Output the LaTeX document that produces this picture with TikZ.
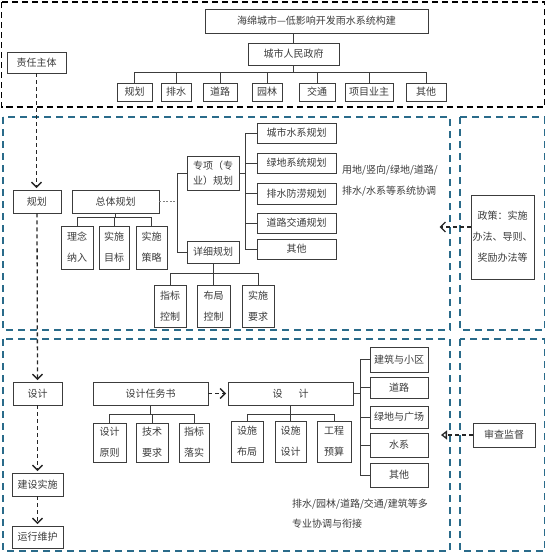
\documentclass[tikz,border=0pt]{standalone}
\usepackage{fontspec}
\newfontfamily\cjk{Noto Sans CJK SC}
\usetikzlibrary{arrows.meta,calc}
\definecolor{bluedash}{RGB}{42,107,138}
\definecolor{ink}{RGB}{60,60,60}
\definecolor{edge}{RGB}{60,60,60}
\tikzset{
  box/.style={draw=edge,line width=0.9pt,fill=white,inner sep=0pt,text=ink,align=center,font=\cjk\fontsize{10}{21}\selectfont},
  conn/.style={draw=edge,line width=0.9pt},
  dotconn/.style={draw=gray,line width=0.7pt,dash pattern=on 2pt off 1.5pt},
  blkzone/.style={draw=black,line width=1.7pt,dash pattern=on 6pt off 4pt},
  bluzone/.style={draw=bluedash,line width=1.7pt,dash pattern=on 7pt off 5pt},
  flow/.style={draw=black!85,line width=1.3pt,dash pattern=on 4pt off 3pt,-{Straight Barb[length=5pt,width=10pt]},shorten >=1.5pt},
  flowtri/.style={draw=black!85,line width=1.3pt,dash pattern=on 4pt off 3pt,-{Triangle[open,length=6pt,width=9pt]}},
  note/.style={text=ink,inner sep=0pt,anchor=west,font=\cjk\fontsize{10}{12}\selectfont},
}
\newcommand\mybox[7][]{%
  \pgfmathsetmacro\mbxW{#5-#3}\pgfmathsetmacro\mbxH{#6-#4}%
  \pgfmathsetmacro\mbxX{(#3+#5)/2}\pgfmathsetmacro\mbxY{(#4+#6)/2}%
  \node[box,minimum width=\mbxW pt,minimum height=\mbxH pt,#1] (#2) at (\mbxX,\mbxY) {#7};}
\begin{document}
\begin{tikzpicture}[x=1pt,y=-1pt]
\useasboundingbox (0,0) rectangle (546,554);
% zones
\draw[blkzone] (1.5,2) rectangle (544.5,107);
\draw[bluzone] (3,117) rectangle (450,330);
\draw[bluzone] (460,117) rectangle (544.5,330);
\draw[bluzone] (3,339) rectangle (450,551);
\draw[bluzone] (460,339) rectangle (544.5,551);

% ---------- top ----------
\mybox{title}{205}{9}{428}{33}{海绵城市—低影响开发雨水系统构建}
\mybox{gov}{248}{43}{339}{65}{城市人民政府}
\mybox{t1}{117}{83}{152}{101}{规划}
\mybox{t2}{161}{83}{191}{101}{排水}
\mybox{t3}{203}{83}{237}{101}{道路}
\mybox{t4}{252}{83}{282}{101}{园林}
\mybox{t5}{299}{83}{335}{101}{交通}
\mybox{t6}{345}{83}{393}{101}{项目业主}
\mybox{t7}{406}{83}{446}{101}{其他}
\mybox{zr}{7}{52}{66}{73}{责任主体}
\draw[conn] (gov.north) -- (gov.north |- title.south);
\draw[conn] (gov.south) -- ++(0,7) coordinate (gh0);
\foreach \c in {t1,t2,t3,t4,t5,t6,t7} \draw[conn] (gh0) -| (\c.north);

% ---------- planning ----------
\mybox{gh}{13}{190}{61}{213}{规划}
\mybox{zt}{72}{190}{159}{213}{总体规划}
\mybox{c1}{61}{226}{93}{269}{理念\\纳入}
\mybox{c2}{99}{226}{129}{269}{实施\\目标}
\mybox{c3}{136}{226}{167}{269}{实施\\策略}
\mybox[font=\cjk\fontsize{10}{15}\selectfont]{zx}{187}{156}{239}{190}{专项（专\\业）规划}
\mybox{xx}{187}{241}{239}{263}{详细规划}
\mybox{d1}{154}{285}{186}{327}{指标\\控制}
\mybox{d2}{197}{285}{230}{327}{布局\\控制}
\mybox{d3}{242}{285}{274}{327}{实施\\要求}
\mybox{r1}{257}{123}{336}{143}{城市水系规划}
\mybox{r2}{257}{153}{336}{173}{绿地系统规划}
\mybox{r3}{257}{183}{336}{204}{排水防涝规划}
\mybox{r4}{257}{213}{336}{233}{道路交通规划}
\mybox{r5}{257}{239}{336}{259}{其他}
\node[note] (n1) at (342,170) {用地/竖向/绿地/道路/};
\node[note] (n2) at (342,191) {排水/水系等系统协调};
\mybox{pol}{471}{195}{534}{279}{政策：实施\\办法、导则、\\奖励办法等}

\draw[conn] (zt.south) -- ++(0,4) coordinate (zth);
\foreach \c in {c1,c2,c3} \draw[conn] (zth) -| (\c.north);
\coordinate (pb) at (177,202);
\draw[dotconn] (zt.east) -- (zt.east -| pb);
\draw[conn] (zx.west) -- (zx.west -| pb) -- (xx.west -| pb) -- (xx.west);
\draw[conn] (xx.south) -- ++(0,10) coordinate (xxh);
\foreach \c in {d1,d2,d3} \draw[conn] (xxh) -| (\c.north);
\coordinate (rb) at (245,176);
\draw[conn] (zx.east) -- (zx.east -| rb);
\draw[conn] (r1.west -| rb) -- (r5.west -| rb);
\foreach \c in {r1,r2,r3,r4,r5} \draw[conn] (\c.west -| rb) -- (\c.west);
\coordinate (pt) at (438,227);
\draw[flow] (pol.west |- pt) -- (pt);

% ---------- design ----------
\mybox{sj}{13}{382}{62}{405}{设计}
\mybox{js}{12}{473}{63}{496}{建设实施}
\mybox{yx}{12}{526}{63}{548}{运行维护}
\mybox{rw}{93}{382}{208}{405}{设计任务书}
\mybox{e1}{93}{423}{126}{462}{设计\\原则}
\mybox{e2}{136}{423}{168}{462}{技术\\要求}
\mybox{e3}{179}{423}{209}{462}{指标\\落实}
\mybox{dz}{228}{382}{353}{405}{设\hspace{16pt}计}
\mybox{f1}{231}{421}{263}{462}{设施\\布局}
\mybox{f2}{275}{421}{306}{462}{设施\\设计}
\mybox{f3}{317}{421}{351}{462}{工程\\预算}
\mybox{g1}{370}{347}{428}{372}{建筑与小区}
\mybox{g2}{370}{377}{428}{398}{道路}
\mybox{g3}{370}{406}{428}{428}{绿地与广场}
\mybox{g4}{370}{433}{428}{457}{水系}
\mybox{g5}{370}{463}{428}{487}{其他}
\node[note] (n3) at (292,504) {排水/园林/道路/交通/建筑等多};
\node[note] (n4) at (292,524) {专业协调与衔接};
\mybox{sc}{473}{423}{535}{447}{审查监督}

\draw[conn] (rw.south) -- ++(0,9) coordinate (rwh);
\foreach \c in {e1,e2,e3} \draw[conn] (rwh) -| (\c.north);
\draw[conn] (dz.south) -- ++(0,9) coordinate (dzh);
\foreach \c in {f1,f2,f3} \draw[conn] (dzh) -| (\c.north);
\coordinate (gb) at (360,393);
\draw[conn] (dz.east) -- (dz.east -| gb);
\draw[conn] (g1.west -| gb) -- (g5.west -| gb);
\foreach \c in {g1,g2,g3,g4,g5} \draw[conn] (\c.west -| gb) -- (\c.west);
\draw[flow] (rw.east) -- (dz.west);
\coordinate (st) at (441,435);
\draw[flowtri] (sc.west) -- (st);

% ---------- main flow ----------
\draw[flow] (zr.south) -- (zr.south |- gh.north);
\draw[flow] (gh.south) -- (sj.north);
\draw[flow] (sj.south) -- (js.north);
\draw[flow] (js.south) -- (yx.north);
\end{tikzpicture}
\end{document}
